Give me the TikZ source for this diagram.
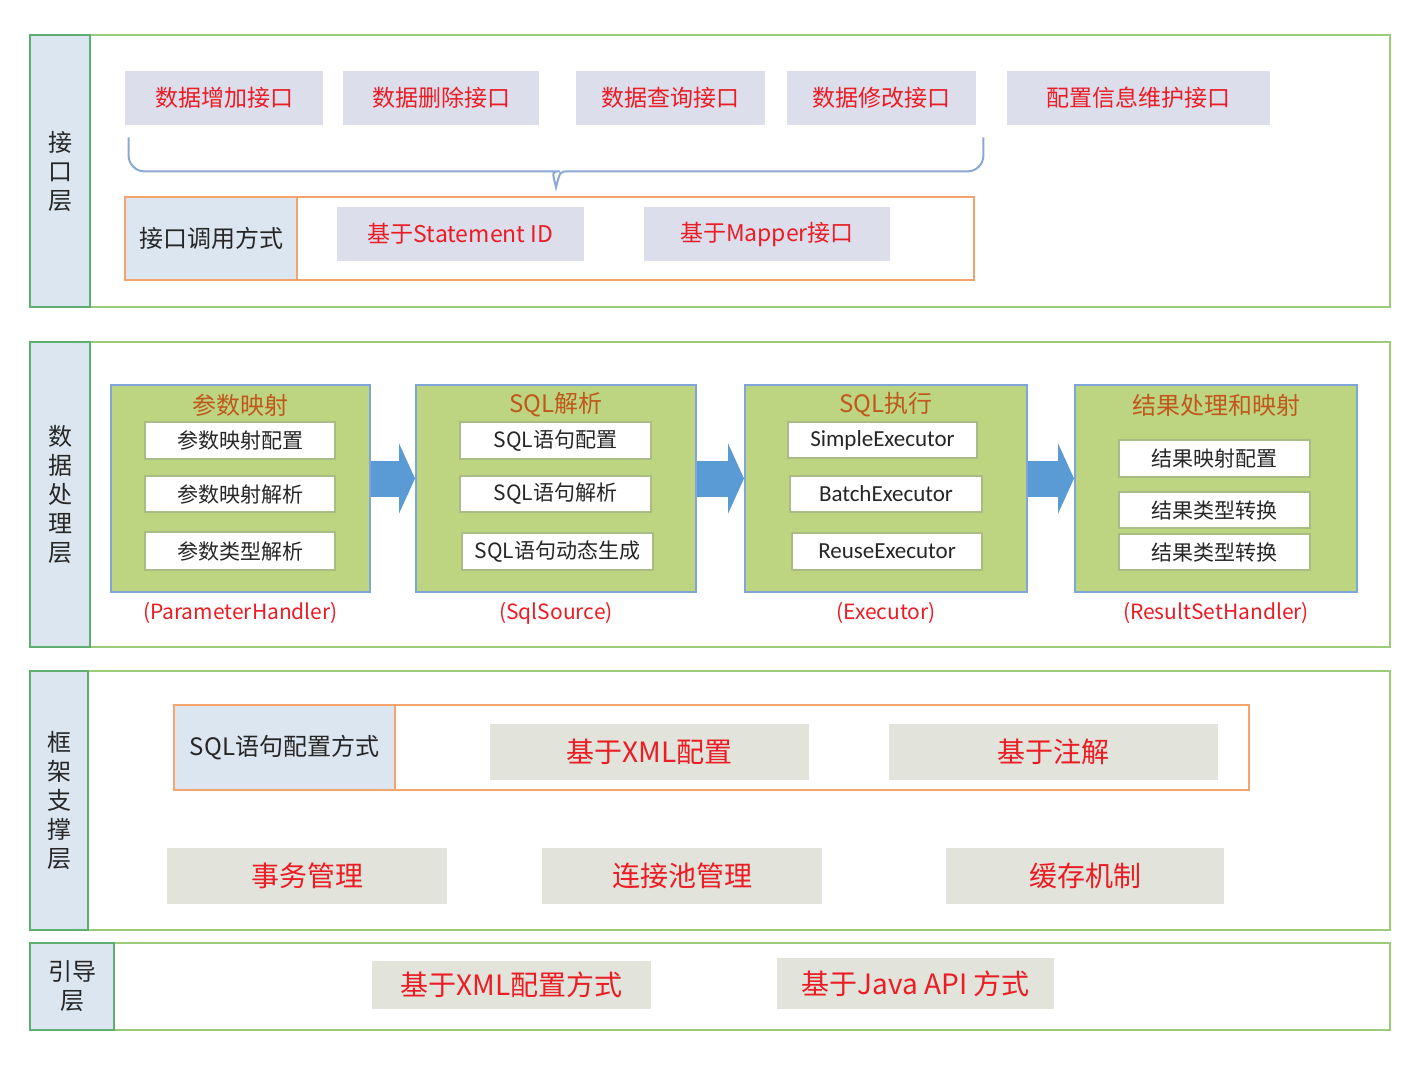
\documentclass[tikz,border=0pt]{standalone}
\usepackage{fontspec}
\setmainfont{Noto Sans CJK SC}
\newfontfamily\latinfont{Carlito}
\usepackage{xcolor}
\usetikzlibrary{arrows.meta, positioning, fit, calc}
\definecolor{lgreen}{HTML}{9CCB78}
\definecolor{tgreen}{HTML}{5EAE72}
\definecolor{tagfill}{HTML}{DCE6F0}
\definecolor{iffill}{HTML}{DCDEEC}
\definecolor{kred}{HTML}{EC1C24}
\definecolor{korange}{HTML}{F5A46E}
\definecolor{stagefill}{HTML}{BDD480}
\definecolor{stageedge}{HTML}{7EA6D8}
\definecolor{itemedge}{HTML}{A9BC83}
\definecolor{ktitle}{HTML}{C0581D}
\definecolor{kflow}{HTML}{5B9BD5}
\definecolor{supfill}{HTML}{E2E3DA}
\definecolor{kbrace}{HTML}{8AA8D4}
\definecolor{ktext}{HTML}{262626}

\tikzset{
  layer/.style={draw=lgreen, line width=1pt, inner sep=0pt},
  tag/.style={draw=tgreen, fill=tagfill, line width=1pt, inner sep=0pt,
    label={[align=center, text=ktext, font=\fontsize{12}{14.5}\selectfont]center:#1}},
  ifbox/.style={fill=iffill, inner sep=0pt,
    label={[text=kred, font=\fontsize{11.5}{13}\selectfont]center:#1}},
  callrow/.style={draw=korange, line width=1pt, inner sep=0pt},
  cellhead/.style={draw=korange, fill=tagfill, line width=1pt, inner sep=0pt,
    label={[text=ktext, font=\fontsize{12}{14}\selectfont]center:#1}},
  stage/.style={draw=stageedge, fill=stagefill, line width=1pt, inner sep=0pt},
  stagetitle/.style={text=ktitle, font=\fontsize{12}{14}\selectfont},
  item/.style={draw=itemedge, fill=white, line width=0.8pt, inner sep=0pt,
    label={[text=ktext, font=\fontsize{10.5}{12}\selectfont]center:#1}},
  exitem/.style={draw=itemedge, fill=white, line width=0.8pt, inner sep=0pt,
    label={[text=ktext, font=\fontsize{11.5}{13}\latinfont]center:#1}},
  caption/.style={text=kred, font=\fontsize{10.5}{12}\selectfont},
  supbox/.style={fill=supfill, inner sep=0pt,
    label={[text=kred, font=\fontsize{14}{16}\selectfont]center:#1}},
  flow/.style={draw=kflow, line width=18pt, -{Triangle[length=8pt, width=35pt]}},
  bracepen/.style={draw=kbrace, line width=1pt}
}

\begin{document}
\begin{tikzpicture}[x=0.5pt, y=-0.5pt]
  \useasboundingbox (0,0) rectangle (1418,1066);

  %% Interface layer
  \node[layer, fit={(30,35) (1390,307)}] (ifl) {};
  \node[tag={接\\口\\层}, fit={(30,35) (90,307)}] (ifltag) {};
  \node[ifbox=数据增加接口, fit={(125,71) (323,125)}] (add) {};
  \node[ifbox=数据删除接口, fit={(343,71) (539,125)}] (del) {};
  \node[ifbox=数据查询接口, fit={(576,71) (765,125)}] (qry) {};
  \node[ifbox=数据修改接口, fit={(787,71) (976,125)}] (upd) {};
  \node[ifbox=配置信息维护接口, fit={(1007,71) (1270,125)}] (cfg) {};

  % brace under the four data interfaces
  \coordinate (bl) at ([xshift=2pt, yshift=-6pt]add.south west);
  \coordinate (br) at ([xshift=3.5pt, yshift=-6pt]upd.south east);
  \coordinate (bm) at ($(bl)!0.5!(br)$);
  \draw[bracepen] (bl) [rounded corners=8pt] -- ($(bl)+(0,34)$) -- ($(bm)+(-12,34)$)
    [sharp corners] .. controls ($(bm)+(-4,34)$) .. ($(bm)+(0,50)$)
    .. controls ($(bm)+(4,34)$) .. ($(bm)+(12,34)$)
    [rounded corners=8pt] -- ($(br)+(0,34)$) -- (br);

  \node[callrow, fit={(125,197) (974,280)}] (callrow) {};
  \node[cellhead=接口调用方式, fit={(125,197) (297,280)}] (callhead) {};
  \node[ifbox=基于Statement ID, fit={(337,207) (584,261)}] (bystmt) {};
  \node[ifbox=基于Mapper接口, fit={(644,207) (890,261)}] (bymapper) {};

  %% Data processing layer
  \node[layer, fit={(30,342) (1390,647)}] (dpl) {};
  \node[tag={数\\据\\处\\理\\层}, fit={(30,342) (90,647)}] (dpltag) {};

  \foreach \nm/\xa/\xb/\ttl/\cap in {
    pm/111/370/参数映射/(ParameterHandler),
    sp/416/696/SQL解析/(SqlSource),
    ex/745/1027/SQL执行/(Executor),
    rs/1075/1357/结果处理和映射/(ResultSetHandler)
  }{
    \node[stage, fit={(\xa,385) (\xb,592)}] (\nm) {};
    \node[stagetitle] (\nm-title) at ({(\xa+\xb)/2},405) {\ttl};
    \node[caption, below=1pt of \nm] (\nm-cap) {\cap};
  }

  \node[item=参数映射配置, fit={(145,422) (335,459)}] (pm1) {};
  \node[item=参数映射解析, fit={(145,476) (335,512)}] (pm2) {};
  \node[item=参数类型解析, fit={(145,532) (335,570)}] (pm3) {};

  \node[item=SQL语句配置, fit={(460,422) (651,459)}] (sp1) {};
  \node[item=SQL语句解析, fit={(460,476) (651,512)}] (sp2) {};
  \node[item=SQL语句动态生成, fit={(462,533) (653,570)}] (sp3) {};

  \node[exitem=SimpleExecutor, fit={(788,422) (977,458)}] (ex1) {};
  \node[exitem=BatchExecutor, fit={(790,476) (982,512)}] (ex2) {};
  \node[exitem=ReuseExecutor, fit={(792,533) (982,570)}] (ex3) {};

  \node[item=结果映射配置, fit={(1119,440) (1310,477)}] (rs1) {};
  \node[item=结果类型转换, fit={(1119,492) (1310,528)}] (rs2) {};
  \node[item=结果类型转换, fit={(1119,534) (1310,570)}] (rs3) {};

  \draw[flow] ([yshift=5pt]pm.east) -- ([yshift=5pt]sp.west);
  \draw[flow] ([yshift=5pt]sp.east) -- ([yshift=5pt]ex.west);
  \draw[flow] ([yshift=5pt]ex.east) -- ([yshift=5pt]rs.west);

  %% Framework support layer
  \node[layer, fit={(30,671) (1390,930)}] (fsl) {};
  \node[tag={框\\架\\支\\撑\\层}, fit={(30,671) (88,930)}] (fsltag) {};
  \node[callrow, fit={(174,705) (1249,790)}] (sqlrow) {};
  \node[cellhead=SQL语句配置方式, fit={(174,705) (395,790)}] (sqlhead) {};
  \node[supbox=基于XML配置, fit={(490,724) (809,780)}] (byxml) {};
  \node[supbox=基于注解, fit={(889,724) (1218,780)}] (byanno) {};
  \node[supbox=事务管理, fit={(167,848) (447,904)}] (txmgr) {};
  \node[supbox=连接池管理, fit={(542,848) (822,904)}] (poolmgr) {};
  \node[supbox=缓存机制, fit={(946,848) (1224,904)}] (cache) {};

  %% Boot layer
  \node[layer, fit={(30,943) (1390,1030)}] (bootl) {};
  \node[tag={引导\\层}, fit={(30,943) (114,1030)}] (boottag) {};
  \node[supbox=基于XML配置方式, fit={(372,961) (651,1009)}] (bootxml) {};
  \node[supbox=基于Java API 方式, fit={(777,958) (1054,1009)}] (bootapi) {};

\end{tikzpicture}
\end{document}
